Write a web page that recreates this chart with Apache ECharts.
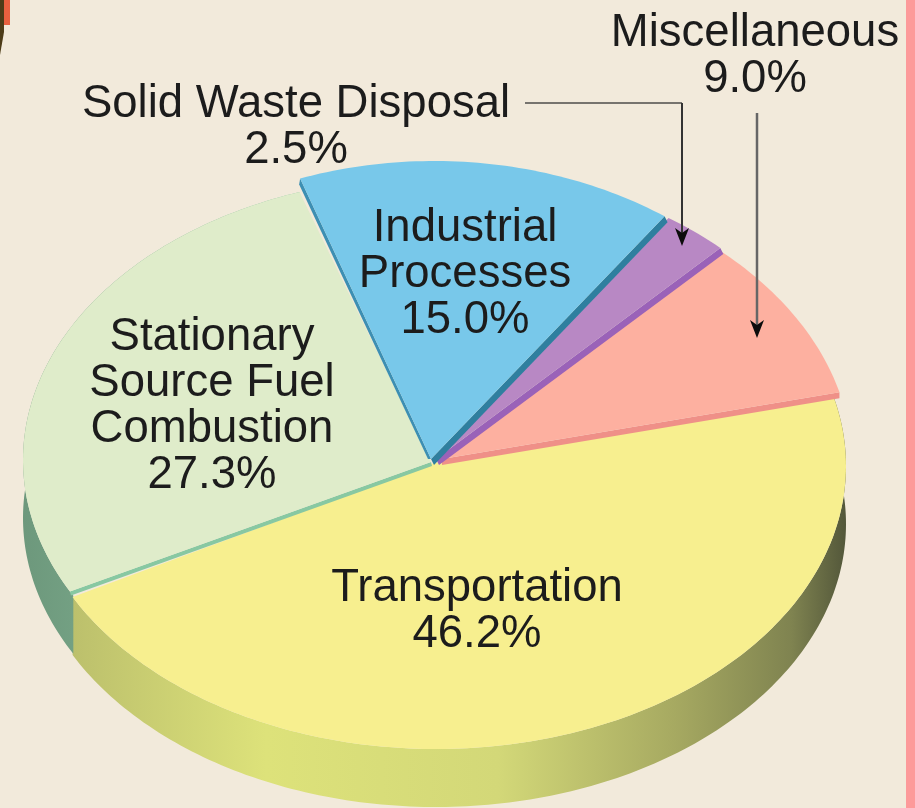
<!DOCTYPE html>
<html>
<head>
<meta charset="utf-8">
<style>html,body{margin:0;padding:0;background:#f2eadb}#c{width:915px;height:808px}</style>
<script src="https://cdn.jsdelivr.net/npm/echarts@6/dist/echarts.min.js"></script>
</head>
<body>
<div id="c"></div>
<script>
// Data, clockwise from the right-hand edge of the Transportation slice
const categories = ['Transportation', 'Stationary\nSource Fuel\nCombustion', 'Industrial\nProcesses', 'Solid Waste Disposal', 'Miscellaneous'];
const shares = [46.2, 27.3, 15.0, 2.5, 9.0];

// Look of each slice
const topColors = ['#f7ef8f', '#dfecca', '#78c8ea', '#b888c4', '#fdb0a0'];
const ovals = [
  {cx: 436, cy: 466, rx: 410, ry: 283, hx: 434, hy: 463},
  {cx: 436, cy: 460, rx: 413, ry: 284, hx: 431, hy: 462},
  {cx: 434, cy: 472, rx: 405, ry: 311, hx: 431, hy: 459},
  {cx: 426, cy: 467, rx: 426, ry: 303, hx: 436, hy: 459},
  {cx: 424, cy: 463, rx: 428, ry: 294, hx: 442, hy: 459}
];
const rims = [
  null,
  {edge: 'start', dx: 1, dy: 4, color: '#88c8a2'},
  {edge: 'end', dx: 3, dy: 6, color: '#2f7f9f'},
  {edge: 'end', dx: 3, dy: 6, color: '#9a62b8'},
  {edge: 'end', dx: 0, dy: 6, color: '#ef9088'}
];
const layers = [1, 4, 6, 5, 3];
const labelAnchors = [
  {x: 477, y: 611}, {x: 212, y: 406}, {x: 465, y: 274}, {x: 296, y: 127}, {x: 755, y: 56}
];
const START_ANGLE = -13.9, WALL = 58, FONT_SIZE = 45.5, LINE_H = 46;

const wallFills = {
  0: [[0, '#bcc06c'], [0.25, '#dde27a'], [0.55, '#d3d878'], [0.78, '#a6a961'], [0.93, '#7f8350'], [1, '#53573a']],
  1: [[0, '#6d987c'], [1, '#8fc4a2']]
};

function arc(o, a0, a1, dy) {
  const pts = [], n = Math.max(2, Math.ceil(Math.abs(a1 - a0)));
  for (let i = 0; i <= n; i++) {
    const t = (a0 + (a1 - a0) * i / n) * Math.PI / 180;
    pts.push([o.cx + o.rx * Math.cos(t), o.cy + o.ry * Math.sin(t) + (dy || 0)]);
  }
  return pts;
}
const total = shares.reduce((a, b) => a + b, 0);

function renderSlice(params, api) {
  const i = params.dataIndex;
  const v = api.value(0);
  let before = 0;
  for (let k = 0; k < i; k++) before += shares[k];
  const a0 = START_ANGLE + before / total * 360;
  const a1 = a0 + v / total * 360;
  const o = ovals[i], base = layers[i] * 10;
  const kids = [];
  if (wallFills[i]) {
    const w0 = i === 1 ? a0 - 1 : a0;
    const top = arc(o, w0, a1), bottom = arc(o, w0, a1, WALL).reverse();
    kids.push({type: 'polygon', z2: i === 1 ? 2 : 1, shape: {points: top.concat(bottom)},
      style: {fill: {type: 'linear', x: 0, y: 0, x2: 1, y2: 0,
        colorStops: (i === 1 ? wallFills[1] : wallFills[0]).map(s => ({offset: s[0], color: s[1]}))}}});
  }
  const curve = arc(o, a0, a1);
  const rim = rims[i];
  if (rim) {
    const outer = rim.edge === 'end' ? curve[curve.length - 1] : curve[0];
    kids.push({type: 'polygon', z2: base, shape: {points: [[o.hx, o.hy], outer,
      [outer[0] + rim.dx, outer[1] + rim.dy], [o.hx + rim.dx, o.hy + rim.dy]]},
      style: {fill: rim.color}});
  }
  if (i === 2) {
    const outer = curve[0];
    kids.push({type: 'polygon', z2: base, shape: {points: [[o.hx, o.hy], outer, [outer[0] - 1, outer[1] + 6], [o.hx - 3, o.hy]]},
      style: {fill: '#3d8fb3'}});
  }
  kids.push({type: 'polygon', z2: base + 1, shape: {points: [[o.hx, o.hy]].concat(curve)}, style: {fill: topColors[i]}});
  const L = labelAnchors[i];
  kids.push({type: 'text', z2: 100, x: L.x, y: L.y, style: {
    text: categories[i] + '\n' + v.toFixed(1) + '%',
    fontFamily: '"Liberation Sans", Arial, sans-serif', fontSize: FONT_SIZE, lineHeight: LINE_H,
    fill: '#1c1c1c', align: 'center', verticalAlign: 'middle'}});
  return {type: 'group', children: kids};
}

function arrowHead(x, y) {
  return {type: 'polygon', z: 20, shape: {points: [[x - 7, y - 17], [x, y - 12], [x + 7, y - 17], [x, y + 1]]}, style: {fill: '#0c0c0c'}};
}

const chart = echarts.init(document.getElementById('c'), null, {renderer: 'canvas', width: 915, height: 808});
chart.setOption({
  backgroundColor: '#f2eadb',
  animation: false,
  series: [{
    type: 'custom', coordinateSystem: 'none', renderItem: renderSlice,
    data: shares.map(v => [v]), z: 5, silent: true
  }],
  graphic: [
    {type: 'rect', z: 1, shape: {x: 906, y: 0, width: 9, height: 808}, style: {fill: '#fd9a9a'}},
    {type: 'rect', z: 1, shape: {x: 3, y: 0, width: 7, height: 25}, style: {fill: '#e8603f'}},
    {type: 'polygon', z: 1, shape: {points: [[0, 0], [4, 0], [4, 32], [0, 55]]}, style: {fill: '#4d3c18'}},
    {type: 'line', z: 20, shape: {x1: 525, y1: 103, x2: 682, y2: 103}, style: {stroke: '#77746e', lineWidth: 2}},
    {type: 'line', z: 20, shape: {x1: 682, y1: 103, x2: 682, y2: 235}, style: {stroke: '#333', lineWidth: 2}},
    arrowHead(682, 245),
    {type: 'line', z: 20, shape: {x1: 757, y1: 113, x2: 757, y2: 328}, style: {stroke: '#666', lineWidth: 2.5}},
    arrowHead(757, 337)
  ]
});
</script>
</body>
</html>
